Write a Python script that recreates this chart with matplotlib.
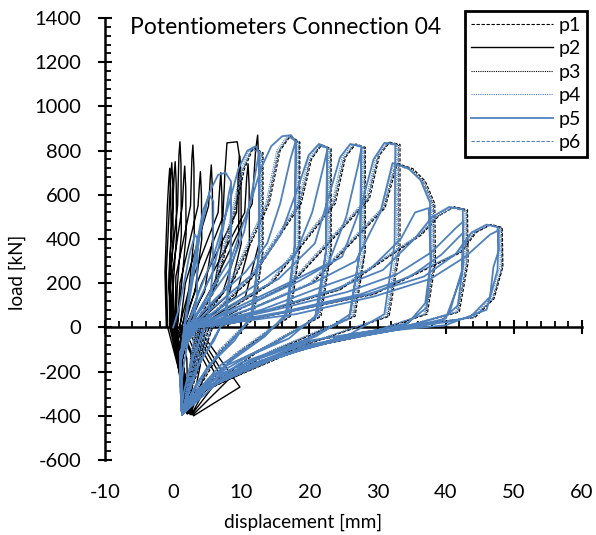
import matplotlib
matplotlib.use('Agg')
import matplotlib.pyplot as plt
from matplotlib.ticker import MultipleLocator, NullLocator

plt.rcParams['font.family'] = ['Lato', 'DejaVu Sans']
plt.rcParams['axes.unicode_minus'] = False

BLUE = '#4F81BD'

# --- data: potentiometer paths (displacement [mm], load [kN]), one cycle per line ---

P1_X = [3.3, 6.5, 8.8, 10.5, 11.8, 13.2, 13.2, 11.8, 7.0, 3.3, 1.5,
        3.5, 9.0, 14.1, 15.7, 17.2, 18.6, 18.6, 17.2, 9.5, 3.3, 1.5,
        3.8, 11.5, 18.8, 20.3, 21.8, 23.2, 23.2, 21.7, 12.0, 3.5, 1.5,
        4.1, 14.5, 23.8, 25.3, 26.8, 28.2, 28.2, 26.7, 14.5, 3.6, 1.5,
        4.5, 17.5, 28.8, 30.3, 31.8, 33.3, 33.3, 31.7, 17.5, 3.8, 1.5,
        4.9, 20.5, 31.1, 32.9, 35.2, 37.0, 38.4, 38.5, 37.3, 29.5, 16.5, 4.3, 1.5,
        5.3, 24.5, 36.5, 39.0, 41.3, 43.2, 43.3, 42.0, 32.5, 18.5, 4.8, 1.5,
        5.8, 29.5, 42.3, 44.5, 46.7, 48.3, 48.4, 47.1, 44.3, 32.5, 20.5, 5.3, 1.5]
P1_Y = [0, 200, 480, 720, 815, 790, 340, 40, -110, -300, -390,
        0, 220, 560, 800, 866, 838, 355, 50, -120, -310, -392,
        0, 220, 560, 760, 826, 808, 345, 50, -120, -310, -392,
        0, 200, 560, 770, 830, 815, 345, 50, -110, -305, -392,
        0, 200, 580, 780, 838, 828, 355, 50, -100, -300, -392,
        0, 200, 540, 742, 718, 662, 560, 295, 60, -20, -110, -290, -392,
        0, 170, 420, 505, 546, 532, 295, 70, -10, -100, -280, -392,
        0, 150, 340, 430, 466, 452, 275, 130, 45, 0, -60, -270, -392]

P2_X = [-1.0, -1.2, -0.85, -0.65, -0.5, -0.35, -0.3, -0.6, -0.2, 0.6, 1.8, 0.9,
        -0.8, -1.0, -0.55, -0.35, -0.2, -0.05, 0.0, -0.4, 0.0, 1.0, 2.0, 1.0,
        -0.5, -0.6, -0.05, 0.15, 0.3, 0.45, 0.5, 0.0, 0.2, 1.2, 1.9, 1.0,
        -0.3, -0.4, 0.65, 0.85, 1.0, 1.15, 1.2, 0.6, 0.4, 1.5, 2.1, 1.1,
        0.0, -0.1, 1.35, 1.55, 1.7, 1.85, 1.9, 1.2, 0.6, 2.0, 2.2, 1.1,
        0.3, 0.4, 2.55, 2.75, 2.9, 3.05, 3.1, 2.3, 0.9, 2.6, 2.3, 1.2,
        0.6, 1.0, 3.65, 3.85, 4.0, 4.15, 4.2, 3.2, 1.2, 3.2, 2.4, 1.2,
        1.0, 1.8, 5.2, 5.45, 5.6, 5.75, 5.8, 4.6, 1.6, 4.0, 2.5, 1.2,
        1.3, 2.6, 6.6, 6.85, 7.0, 7.15, 7.2, 5.8, 2.0, 5.0, 2.6, 1.2,
        1.6, 3.5, 7.3, 7.6, 7.9, 9.4, 9.7, 9.6, 7.2, 2.4, 6.0, 2.7, 1.3,
        1.9, 4.2, 9.3, 9.6, 9.8, 9.95, 10.0, 8.2, 2.8, 7.0, 2.8, 1.3,
        2.2, 5.0, 10.5, 10.8, 11.0, 11.15, 11.2, 9.2, 3.2, 8.0, 2.9, 1.3,
        2.5, 6.0, 11.6, 12.1, 12.4, 12.55, 12.6, 10.6, 3.6, 9.8, 3.0, 1.3]
P2_Y = [0, 250, 550, 660, 720, 620, 420, 180, 0, -150, -385, -200,
        0, 250, 550, 685, 745, 645, 420, 180, 0, -160, -390, -200,
        0, 250, 550, 690, 750, 650, 420, 180, 0, -150, -380, -180,
        0, 250, 550, 780, 840, 740, 420, 180, 0, -170, -392, -200,
        0, 250, 550, 670, 730, 630, 420, 180, 0, -140, -380, -190,
        0, 230, 550, 765, 825, 725, 420, 170, 0, -120, -390, -200,
        0, 200, 550, 645, 705, 605, 400, 160, 0, -150, -385, -180,
        0, 200, 550, 675, 735, 635, 400, 160, 0, -170, -395, -180,
        0, 200, 520, 640, 700, 600, 380, 150, 0, -180, -390, -170,
        0, 200, 500, 700, 835, 840, 780, 380, 150, 0, -200, -395, -160,
        0, 200, 520, 715, 775, 675, 380, 150, 0, -220, -392, -160,
        0, 200, 520, 680, 740, 640, 370, 140, 0, -240, -396, -150,
        0, 200, 560, 800, 870, 760, 380, 140, 0, -270, -400, -150]

P3_X = [3.2, 6.4, 8.6, 10.3, 11.6, 13.1, 13.1, 11.6, 6.8, 3.2, 1.4,
        3.4, 8.9, 13.9, 15.5, 17.0, 18.5, 18.5, 17.0, 9.3, 3.2, 1.4,
        3.7, 11.4, 18.6, 20.1, 21.6, 23.1, 23.1, 21.5, 11.8, 3.4, 1.4,
        4.0, 14.4, 23.6, 25.1, 26.6, 28.1, 28.1, 26.5, 14.3, 3.5, 1.4,
        4.4, 17.4, 28.6, 30.1, 31.6, 33.1, 33.1, 31.5, 17.3, 3.7, 1.4,
        4.8, 20.4, 30.9, 32.7, 35.0, 36.8, 38.2, 38.3, 37.1, 29.3, 16.3, 4.2, 1.4,
        5.2, 24.4, 36.3, 38.8, 41.1, 43.1, 43.1, 41.8, 32.3, 18.3, 4.7, 1.4,
        5.7, 29.4, 42.1, 44.3, 46.5, 48.2, 48.3, 46.9, 44.1, 32.3, 20.3, 5.2, 1.4]
P3_Y = [0, 200, 480, 718, 812, 788, 335, 40, -110, -300, -390,
        0, 220, 560, 798, 864, 836, 352, 50, -120, -310, -392,
        0, 220, 560, 758, 824, 806, 342, 50, -120, -310, -392,
        0, 200, 560, 768, 828, 812, 342, 50, -110, -305, -392,
        0, 200, 580, 778, 836, 826, 352, 50, -100, -300, -392,
        0, 200, 540, 740, 716, 660, 558, 292, 60, -20, -110, -290, -392,
        0, 170, 420, 503, 543, 528, 292, 70, -10, -100, -280, -392,
        0, 150, 340, 429, 464, 448, 272, 128, 45, 0, -60, -270, -392]

P4_X = [3.0, 6.0, 8.3, 10.0, 11.3, 12.8, 12.8, 11.3, 6.5, 3.0, 1.4,
        3.2, 8.5, 13.6, 15.2, 16.7, 18.2, 18.2, 16.7, 9.0, 3.0, 1.4,
        3.5, 11.0, 18.3, 19.8, 21.3, 22.8, 22.8, 21.2, 11.5, 3.2, 1.4,
        3.8, 14.0, 23.3, 24.8, 26.3, 27.8, 27.8, 26.2, 14.0, 3.3, 1.4,
        4.2, 17.0, 28.3, 29.8, 31.3, 32.8, 32.8, 31.2, 17.0, 3.5, 1.4,
        4.6, 20.0, 30.6, 32.4, 34.7, 36.5, 37.9, 38.0, 36.8, 29.0, 16.0, 4.0, 1.4,
        5.0, 24.0, 36.0, 38.5, 40.8, 42.8, 42.8, 41.5, 32.0, 18.0, 4.5, 1.4,
        5.5, 29.0, 41.8, 44.0, 46.2, 47.9, 48.0, 46.6, 43.8, 32.0, 20.0, 5.0, 1.4]
P4_Y = [0, 200, 480, 720, 810, 790, 340, 40, -110, -300, -390,
        0, 220, 560, 800, 865, 840, 360, 50, -120, -310, -392,
        0, 220, 560, 760, 825, 810, 350, 50, -120, -310, -392,
        0, 200, 560, 770, 828, 815, 350, 50, -110, -305, -392,
        0, 200, 580, 780, 835, 825, 360, 50, -100, -300, -392,
        0, 200, 540, 740, 715, 660, 560, 300, 60, -20, -110, -290, -392,
        0, 170, 420, 505, 545, 530, 300, 70, -10, -100, -280, -392,
        0, 150, 340, 430, 465, 450, 280, 130, 45, 0, -60, -270, -392]

P5_X = [0.0, 0.8, 1.6, 2.4, 3.2, 3.6, 3.5, 3.0, 2.2, 1.5, 1.1,
        1.0, 1.6, 2.4, 3.4, 4.4, 5.3, 5.9, 5.8, 5.1, 4.0, 2.6, 1.6, 1.2,
        1.0, 1.7, 2.8, 4.0, 5.3, 6.6, 7.7, 8.5, 8.5, 7.8, 6.0, 4.0, 2.4, 1.4,
        1.0, 1.9, 3.6, 5.8, 7.3, 8.2, 8.5, 8.4, 7.6, 5.6, 3.6, 2.2, 1.3,
        1.0, 2.0, 3.8, 6.0, 8.2, 9.6, 10.9, 12.1, 12.7, 12.6, 11.6, 9.0, 6.0, 3.5, 2.0, 1.3,
        1.0, 2.1, 5.0, 8.2, 10.4, 11.8, 12.6, 12.6, 11.4, 8.0, 5.0, 2.8, 1.4,
        1.0, 2.2, 5.2, 8.6, 11.3, 12.9, 14.4, 16.0, 17.3, 18.0, 17.9, 16.8, 13.5, 9.0, 5.0, 2.6, 1.3,
        1.0, 2.3, 6.2, 10.6, 13.8, 15.7, 17.2, 18.0, 17.8, 16.5, 12.0, 7.0, 3.5, 1.4,
        1.0, 2.4, 7.0, 12.0, 15.8, 18.4, 19.9, 21.4, 22.6, 22.5, 21.2, 17.0, 11.0, 6.0, 2.8, 1.3,
        1.0, 2.5, 8.0, 13.5, 17.8, 20.4, 22.0, 22.6, 22.4, 20.8, 15.0, 8.0, 3.5, 1.4,
        1.0, 2.6, 9.0, 15.5, 20.8, 23.1, 24.5, 26.0, 27.6, 27.5, 26.0, 21.0, 14.0, 7.0, 3.0, 1.3,
        1.0, 2.7, 10.0, 17.5, 22.8, 25.4, 27.2, 27.6, 27.4, 25.8, 19.0, 10.0, 4.0, 1.4,
        1.0, 2.8, 11.0, 18.5, 24.8, 27.7, 29.4, 31.0, 32.6, 32.5, 31.0, 26.0, 18.0, 9.0, 3.5, 1.3,
        1.0, 3.0, 12.0, 20.5, 26.8, 30.4, 32.2, 34.5, 36.3, 37.7, 37.8, 37.0, 34.5, 29.0, 20.0, 11.0, 4.0, 1.3,
        1.0, 3.1, 13.0, 21.5, 28.8, 33.4, 35.5, 37.5, 37.8, 37.2, 34.0, 25.0, 14.0, 5.0, 1.4,
        1.0, 3.2, 14.0, 23.5, 30.8, 35.4, 38.0, 40.5, 42.5, 42.6, 41.8, 39.0, 33.0, 24.0, 14.0, 5.0, 1.3,
        1.0, 3.3, 15.0, 25.5, 32.8, 37.9, 41.5, 42.6, 42.4, 40.5, 34.0, 24.0, 13.0, 5.0, 1.4,
        1.0, 3.4, 16.0, 27.5, 34.8, 39.4, 42.6, 42.4, 40.0, 33.0, 22.0, 12.0, 5.0, 1.4,
        1.0, 3.5, 17.0, 28.5, 36.8, 41.4, 43.8, 46.0, 47.6, 47.8, 47.0, 46.5, 43.6, 40.2, 31.8, 20.0, 11.0, 4.5, 1.3,
        1.0, 3.6, 18.0, 29.5, 37.8, 42.9, 46.5, 47.8, 47.6, 46.0, 40.0, 30.0, 18.0, 8.0, 1.4]
P5_Y = [0, 80, 200, 330, 420, 400, 150, 20, -60, -180, -300,
        -150, 0, 170, 370, 530, 600, 570, 250, 40, -50, -160, -290, -380,
        -180, 0, 200, 430, 610, 690, 700, 660, 300, 60, -60, -150, -270, -390,
        -170, 0, 110, 250, 440, 610, 650, 300, 40, -70, -180, -300, -392,
        -170, 0, 160, 330, 560, 720, 800, 820, 790, 350, 60, -60, -150, -250, -340, -395,
        -170, 0, 120, 260, 430, 650, 790, 330, 40, -80, -180, -300, -392,
        -170, 0, 150, 320, 560, 720, 820, 865, 870, 840, 380, 70, -40, -140, -240, -330, -396,
        -160, 0, 130, 250, 380, 560, 760, 845, 360, 50, -70, -170, -290, -392,
        -160, 0, 120, 250, 420, 640, 780, 830, 815, 360, 60, -50, -130, -220, -320, -396,
        -150, 0, 110, 220, 320, 520, 720, 800, 340, 40, -70, -170, -285, -392,
        -150, 0, 110, 220, 380, 620, 770, 830, 820, 360, 60, -40, -120, -210, -310, -396,
        -140, 0, 100, 210, 290, 500, 740, 805, 340, 40, -60, -160, -280, -392,
        -140, 0, 100, 210, 320, 560, 760, 835, 830, 380, 60, -30, -110, -200, -305, -396,
        -130, 0, 90, 200, 300, 520, 744, 720, 667, 563, 300, 110, 20, -20, -90, -180, -290, -396,
        -130, 0, 80, 180, 260, 400, 520, 540, 300, 90, 10, -40, -150, -270, -392,
        -130, 0, 80, 170, 260, 400, 500, 545, 535, 300, 100, 20, -10, -60, -140, -270, -396,
        -120, 0, 80, 160, 240, 340, 450, 480, 260, 60, 0, -60, -150, -270, -392,
        -120, 0, 70, 150, 230, 330, 430, 240, 40, -10, -70, -160, -275, -392,
        -120, 0, 70, 150, 230, 330, 430, 465, 455, 350, 273, 138, 47, 24, -3, -60, -160, -280, -396,
        -110, 0, 60, 140, 220, 320, 420, 440, 260, 80, 10, -20, -90, -210, -392]

P6_X = [3.1, 6.2, 8.5, 10.2, 11.5, 13.0, 13.0, 11.5, 6.7, 3.1, 1.4,
        3.3, 8.7, 13.8, 15.4, 16.9, 18.4, 18.4, 16.9, 9.2, 3.1, 1.4,
        3.6, 11.2, 18.5, 20.0, 21.5, 23.0, 23.0, 21.4, 11.7, 3.3, 1.4,
        3.9, 14.2, 23.5, 25.0, 26.5, 28.0, 28.0, 26.4, 14.2, 3.4, 1.4,
        4.3, 17.2, 28.5, 30.0, 31.5, 33.0, 33.0, 31.4, 17.2, 3.6, 1.4,
        4.7, 20.2, 30.8, 32.6, 34.9, 36.7, 38.1, 38.2, 37.0, 29.2, 16.2, 4.1, 1.4,
        5.1, 24.2, 36.2, 38.7, 41.0, 43.0, 43.0, 41.7, 32.2, 18.2, 4.6, 1.4,
        5.6, 29.2, 42.0, 44.2, 46.4, 48.1, 48.2, 46.8, 44.0, 32.2, 20.2, 5.1, 1.4]
P6_Y = [0, 200, 480, 715, 808, 785, 330, 40, -110, -300, -390,
        0, 220, 560, 795, 862, 835, 350, 50, -120, -310, -392,
        0, 220, 560, 755, 822, 805, 340, 50, -120, -310, -392,
        0, 200, 560, 765, 825, 810, 340, 50, -110, -305, -392,
        0, 200, 580, 775, 832, 820, 350, 50, -100, -300, -392,
        0, 200, 540, 735, 712, 655, 555, 290, 60, -20, -110, -290, -392,
        0, 170, 420, 500, 540, 525, 290, 70, -10, -100, -280, -392,
        0, 150, 340, 428, 462, 446, 270, 125, 45, 0, -60, -270, -392]

LABELS = ['p1', 'p2', 'p3', 'p4', 'p5', 'p6']
X_TICKS = [-10, 0, 10, 20, 30, 40, 50, 60]
Y_TICKS = [-600, -400, -200, 0, 200, 400, 600, 800, 1000, 1200, 1400]

series = [
    (P1_X, P1_Y, dict(color='black', ls=(0, (3, 1.5)), lw=0.8)),
    (P2_X, P2_Y, dict(color='black', ls='-', lw=1.0)),
    (P3_X, P3_Y, dict(color='black', ls=(0, (1, 1)), lw=0.8)),
    (P4_X, P4_Y, dict(color=BLUE, ls=(0, (1, 1)), lw=0.8)),
    (P5_X, P5_Y, dict(color=BLUE, ls='-', lw=1.3)),
    (P6_X, P6_Y, dict(color=BLUE, ls=(0, (3, 1.5)), lw=0.8)),
]

fig = plt.figure(figsize=(5.96, 5.35), dpi=100)
ax = fig.add_axes([105 / 596, 1 - 460 / 535, 477 / 596, 442 / 535])

for (xs, ys, st), lab in zip(series, LABELS):
    ax.plot(xs, ys, label=lab, solid_joinstyle='round', **st)

ax.set_xlim(X_TICKS[0], X_TICKS[-1])
ax.set_ylim(Y_TICKS[0], Y_TICKS[-1])
ax.set_axisbelow(True)

# axes lines: y axis at left, x axis through load = 0
for s in ['top', 'right']:
    ax.spines[s].set_visible(False)
ax.spines['bottom'].set_position(('data', 0))
for s in ['left', 'bottom']:
    ax.spines[s].set_linewidth(1.8)
    ax.spines[s].set_zorder(1)

ax.set_xticks(X_TICKS)
ax.xaxis.set_minor_locator(MultipleLocator(2))
ax.set_yticks(Y_TICKS)
ax.yaxis.set_minor_locator(MultipleLocator(40))
ax.tick_params(axis='x', which='major', direction='inout', length=10.5, width=1.5,
               labelbottom=False)
ax.tick_params(axis='x', which='minor', direction='in', length=4, width=1.3)
ax.tick_params(axis='y', which='major', direction='inout', length=10.5, width=1.5,
               labelsize=14.5, pad=12)
ax.tick_params(axis='y', which='minor', direction='in', length=4.5, width=1.3)

# x tick labels sit below the plot, as in the spreadsheet chart
sec = ax.secondary_xaxis('bottom')
sec.set_xticks(X_TICKS)
sec.xaxis.set_minor_locator(NullLocator())
sec.tick_params(length=0, labelsize=14.5, pad=17)
sec.spines['bottom'].set_visible(False)

fig.text(130 / 596, 1 - 27 / 535, 'Potentiometers Connection 04',
         fontsize=16.5, ha='left', va='center')
fig.text(17 / 596, 1 - 272 / 535, 'load [kN]', rotation=90,
         fontsize=13.5, ha='center', va='center')
fig.text(303 / 596, 1 - 522 / 535, 'displacement [mm]',
         fontsize=13.7, ha='center', va='center')

leg = ax.legend(loc='upper right', bbox_to_anchor=(587 / 596, 1 - 11 / 535),
                bbox_transform=fig.transFigure, borderaxespad=0, fancybox=False,
                edgecolor='black', framealpha=1, fontsize=14, handlelength=4.2,
                handletextpad=0.3, labelspacing=0.33, borderpad=0.3)
leg.get_frame().set_linewidth(2)

fig.savefig('out.png', dpi=100, facecolor='white')
